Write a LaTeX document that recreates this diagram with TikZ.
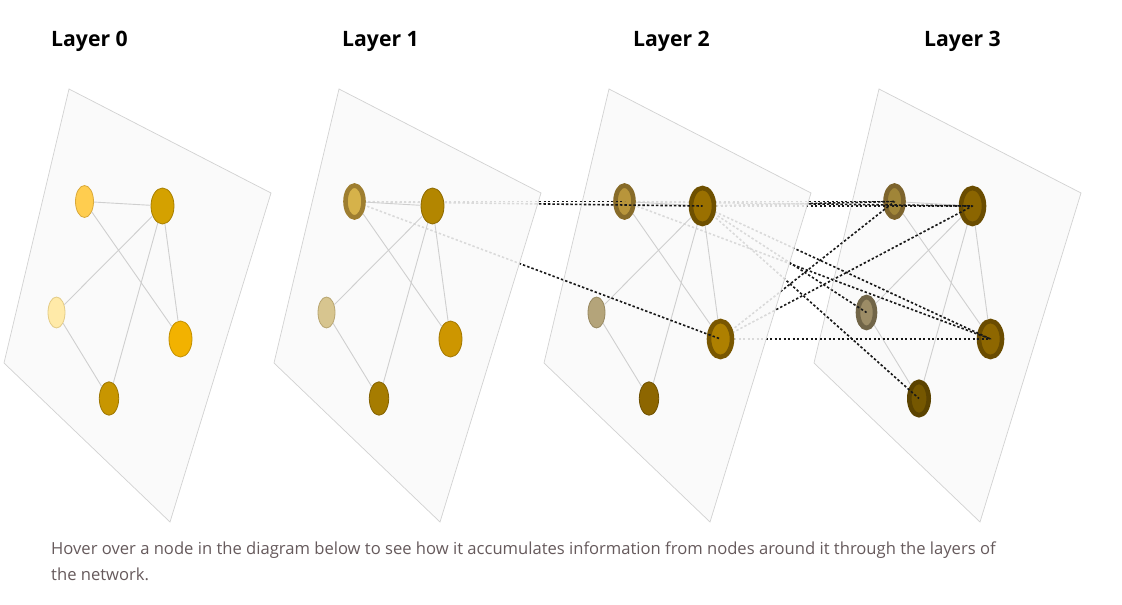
\documentclass[tikz,border=0pt]{standalone}
\usepackage{fontspec}
\setmainfont{Open Sans}
\usetikzlibrary{shapes.geometric}
\pgfdeclarelayer{flowA}
\pgfdeclarelayer{panelB}
\pgfdeclarelayer{flowB}
\pgfdeclarelayer{panelC}
\pgfdeclarelayer{inC}
\pgfdeclarelayer{panelD}
\pgfdeclarelayer{inD}
\pgfsetlayers{main,flowA,panelB,flowB,panelC,inC,panelD,inD}

\definecolor{panelfill}{HTML}{FAFAFA}
\definecolor{panelborder}{HTML}{D2D2D2}
\definecolor{edgegray}{HTML}{CFCFCF}
\definecolor{flowcol}{HTML}{181818}
\definecolor{captioncol}{HTML}{665A5C}
% layer 0
\definecolor{a0f}{HTML}{FFCD4F}\definecolor{a0d}{HTML}{D9A93A}
\definecolor{b0f}{HTML}{D4A100}\definecolor{b0d}{HTML}{A88000}
\definecolor{c0f}{HTML}{FFEAA8}\definecolor{c0d}{HTML}{E3CB85}
\definecolor{d0f}{HTML}{F2B200}\definecolor{d0d}{HTML}{C39000}
\definecolor{e0f}{HTML}{C89600}\definecolor{e0d}{HTML}{9E7700}
% layer 1
\definecolor{a1f}{HTML}{D6B24A}\definecolor{a1d}{HTML}{9E7E30}
\definecolor{b1f}{HTML}{B38600}\definecolor{b1d}{HTML}{8E6A00}
\definecolor{c1f}{HTML}{D7C58F}\definecolor{c1d}{HTML}{B8A570}
\definecolor{d1f}{HTML}{CD9600}\definecolor{d1d}{HTML}{A47800}
\definecolor{e1f}{HTML}{A67C00}\definecolor{e1d}{HTML}{846200}
% layer 2
\definecolor{a2f}{HTML}{B8953B}\definecolor{a2d}{HTML}{876B29}
\definecolor{b2f}{HTML}{9A7000}\definecolor{b2d}{HTML}{6E5000}
\definecolor{c2f}{HTML}{B4A47A}\definecolor{c2d}{HTML}{978860}
\definecolor{d2f}{HTML}{AE8000}\definecolor{d2d}{HTML}{795700}
\definecolor{e2f}{HTML}{8D6600}\definecolor{e2d}{HTML}{6E5000}
% layer 3
\definecolor{a3f}{HTML}{A08538}\definecolor{a3d}{HTML}{7D642D}
\definecolor{b3f}{HTML}{8B6500}\definecolor{b3d}{HTML}{6A4C00}
\definecolor{c3f}{HTML}{9C8C66}\definecolor{c3d}{HTML}{716548}
\definecolor{d3f}{HTML}{8E6700}\definecolor{d3d}{HTML}{6A4C00}
\definecolor{e3f}{HTML}{755700}\definecolor{e3d}{HTML}{5B4300}

\tikzset{
  gnode/.style={ellipse, inner sep=0pt, line width=0.8pt},
  ringnode/.style={ellipse, inner sep=0pt, line width=4.6pt},
  plain/.style 2 args={gnode, fill=#1, draw=#2},
  ring/.style 2 args={ringnode, fill=#1, draw=#2},
  szA/.style={minimum width=18pt, minimum height=32pt},
  szB/.style={minimum width=23pt, minimum height=36pt},
  szC/.style={minimum width=17pt, minimum height=31pt},
  szD/.style={minimum width=23pt, minimum height=36pt},
  szE/.style={minimum width=19.4pt, minimum height=33.4pt},
  nA0/.style={plain={a0f}{a0d}}, nB0/.style={plain={b0f}{b0d}},
  nC0/.style={plain={c0f}{c0d}}, nD0/.style={plain={d0f}{d0d}},
  nE0/.style={plain={e0f}{e0d}},
  nA1/.style={ring={a1f}{a1d}}, nB1/.style={plain={b1f}{b1d}},
  nC1/.style={plain={c1f}{c1d}}, nD1/.style={plain={d1f}{d1d}},
  nE1/.style={plain={e1f}{e1d}},
  nA2/.style={ring={a2f}{a2d}}, nB2/.style={ring={b2f}{b2d}},
  nC2/.style={plain={c2f}{c2d}}, nD2/.style={ring={d2f}{d2d}},
  nE2/.style={plain={e2f}{e2d}},
  nA3/.style={ring={a3f}{a3d}}, nB3/.style={ring={b3f}{b3d}},
  nC3/.style={ring={c3f}{c3d}}, nD3/.style={ring={d3f}{d3d}},
  nE3/.style={ring={e3f}{e3d}},
  gedge/.style={draw=edgegray, line width=0.9pt},
  flow/.style={draw=flowcol, line width=1.6pt, dash pattern=on 2.4pt off 2.1pt},
  panel/.style={fill=panelfill, fill opacity=0.86, draw=panelborder, line width=0.7pt},
  title/.style={font=\bfseries\fontsize{21.2}{25}\selectfont, anchor=base west, inner sep=0pt},
  caption/.style={font=\fontsize{16.6}{20}\selectfont, text=captioncol, anchor=base west, inner sep=0pt},
}

\newcommand\drawlayer[1]{%
  \pgfmathsetmacro\o{270*#1}%
  \coordinate (P#1a) at (69+\o,89);
  \coordinate (P#1b) at (271+\o,193);
  \coordinate (P#1c) at (170+\o,522);
  \coordinate (P#1d) at (4+\o,363);
  \path[panel] (P#1a) -- (P#1b) -- (P#1c) -- (P#1d) -- cycle;
  \node[szA,nA#1] (A#1) at (84.5+\o,201.5) {};
  \node[szB,nB#1] (B#1) at (162.5+\o,206) {};
  \node[szC,nC#1] (C#1) at (56.5+\o,312.5) {};
  \node[szD,nD#1] (D#1) at (180.5+\o,339) {};
  \node[szE,nE#1] (E#1) at (109+\o,398.5) {};
  \draw[gedge] (A#1) -- (B#1) (A#1) -- (D#1) (B#1) -- (C#1)
               (B#1) -- (E#1) (B#1) -- (D#1) (C#1) -- (E#1);
}
\newcommand\flowsAB{%
  \draw[flow] (A1.center) -- (A2.center);
  \draw[flow] (A1.center) -- (B2.center);
  \draw[flow] (A1.center) -- (D2.center);
}
\newcommand\flowsBC{%
  \draw[flow] (A2.center) -- (A3.center);
  \draw[flow] (A2.center) -- (B3.center);
  \draw[flow] (A2.center) -- (D3.center);
  \draw[flow] (B2.center) -- (A3.center);
  \draw[flow] (B2.center) -- (B3.center);
  \draw[flow] (B2.center) -- (C3.center);
  \draw[flow] (B2.center) -- (D3.center);
  \draw[flow] (B2.center) -- (E3.center);
  \draw[flow] (D2.center) -- (A3.center);
  \draw[flow] (D2.center) -- (B3.center);
  \draw[flow] (D2.center) -- (D3.center);
}

\begin{document}
\begin{tikzpicture}[x=1pt,y=-1pt]
  \useasboundingbox[fill=white] (0,0) rectangle (1122,605);

  % titles
  \node[title] (t0) at (51,46) {Layer 0};
  \node[title] (t1) at (342,46) {Layer 1};
  \node[title] (t2) at (633,46) {Layer 2};
  \node[title] (t3) at (924,46) {Layer 3};

  % panels
  \drawlayer{0}
  \begin{pgfonlayer}{panelB}\drawlayer{1}\end{pgfonlayer}
  \begin{pgfonlayer}{panelC}\drawlayer{2}\end{pgfonlayer}
  \begin{pgfonlayer}{panelD}\drawlayer{3}\end{pgfonlayer}

  % flows (full, below the following panels)
  \begin{pgfonlayer}{flowA}\flowsAB\end{pgfonlayer}
  \begin{pgfonlayer}{flowB}\flowsBC\end{pgfonlayer}

  % flows redrawn on top inside target panels
  \begin{pgfonlayer}{inC}
    \begin{scope}
      \clip (P2a) -- (P2b) -- (P2c) -- (P2d) -- cycle;
      \flowsAB
    \end{scope}
  \end{pgfonlayer}
  \begin{pgfonlayer}{inD}
    \begin{scope}
      \clip (P3a) -- (P3b) -- (P3c) -- (P3d) -- cycle;
      \flowsBC
    \end{scope}
  \end{pgfonlayer}

  % caption
  \node[caption] (cap1) at (51,554) {Hover over a node in the diagram below to see how it accumulates information from nodes around it through the layers of};
  \node[caption] (cap2) at (51,580) {the network.};
\end{tikzpicture}
\end{document}
